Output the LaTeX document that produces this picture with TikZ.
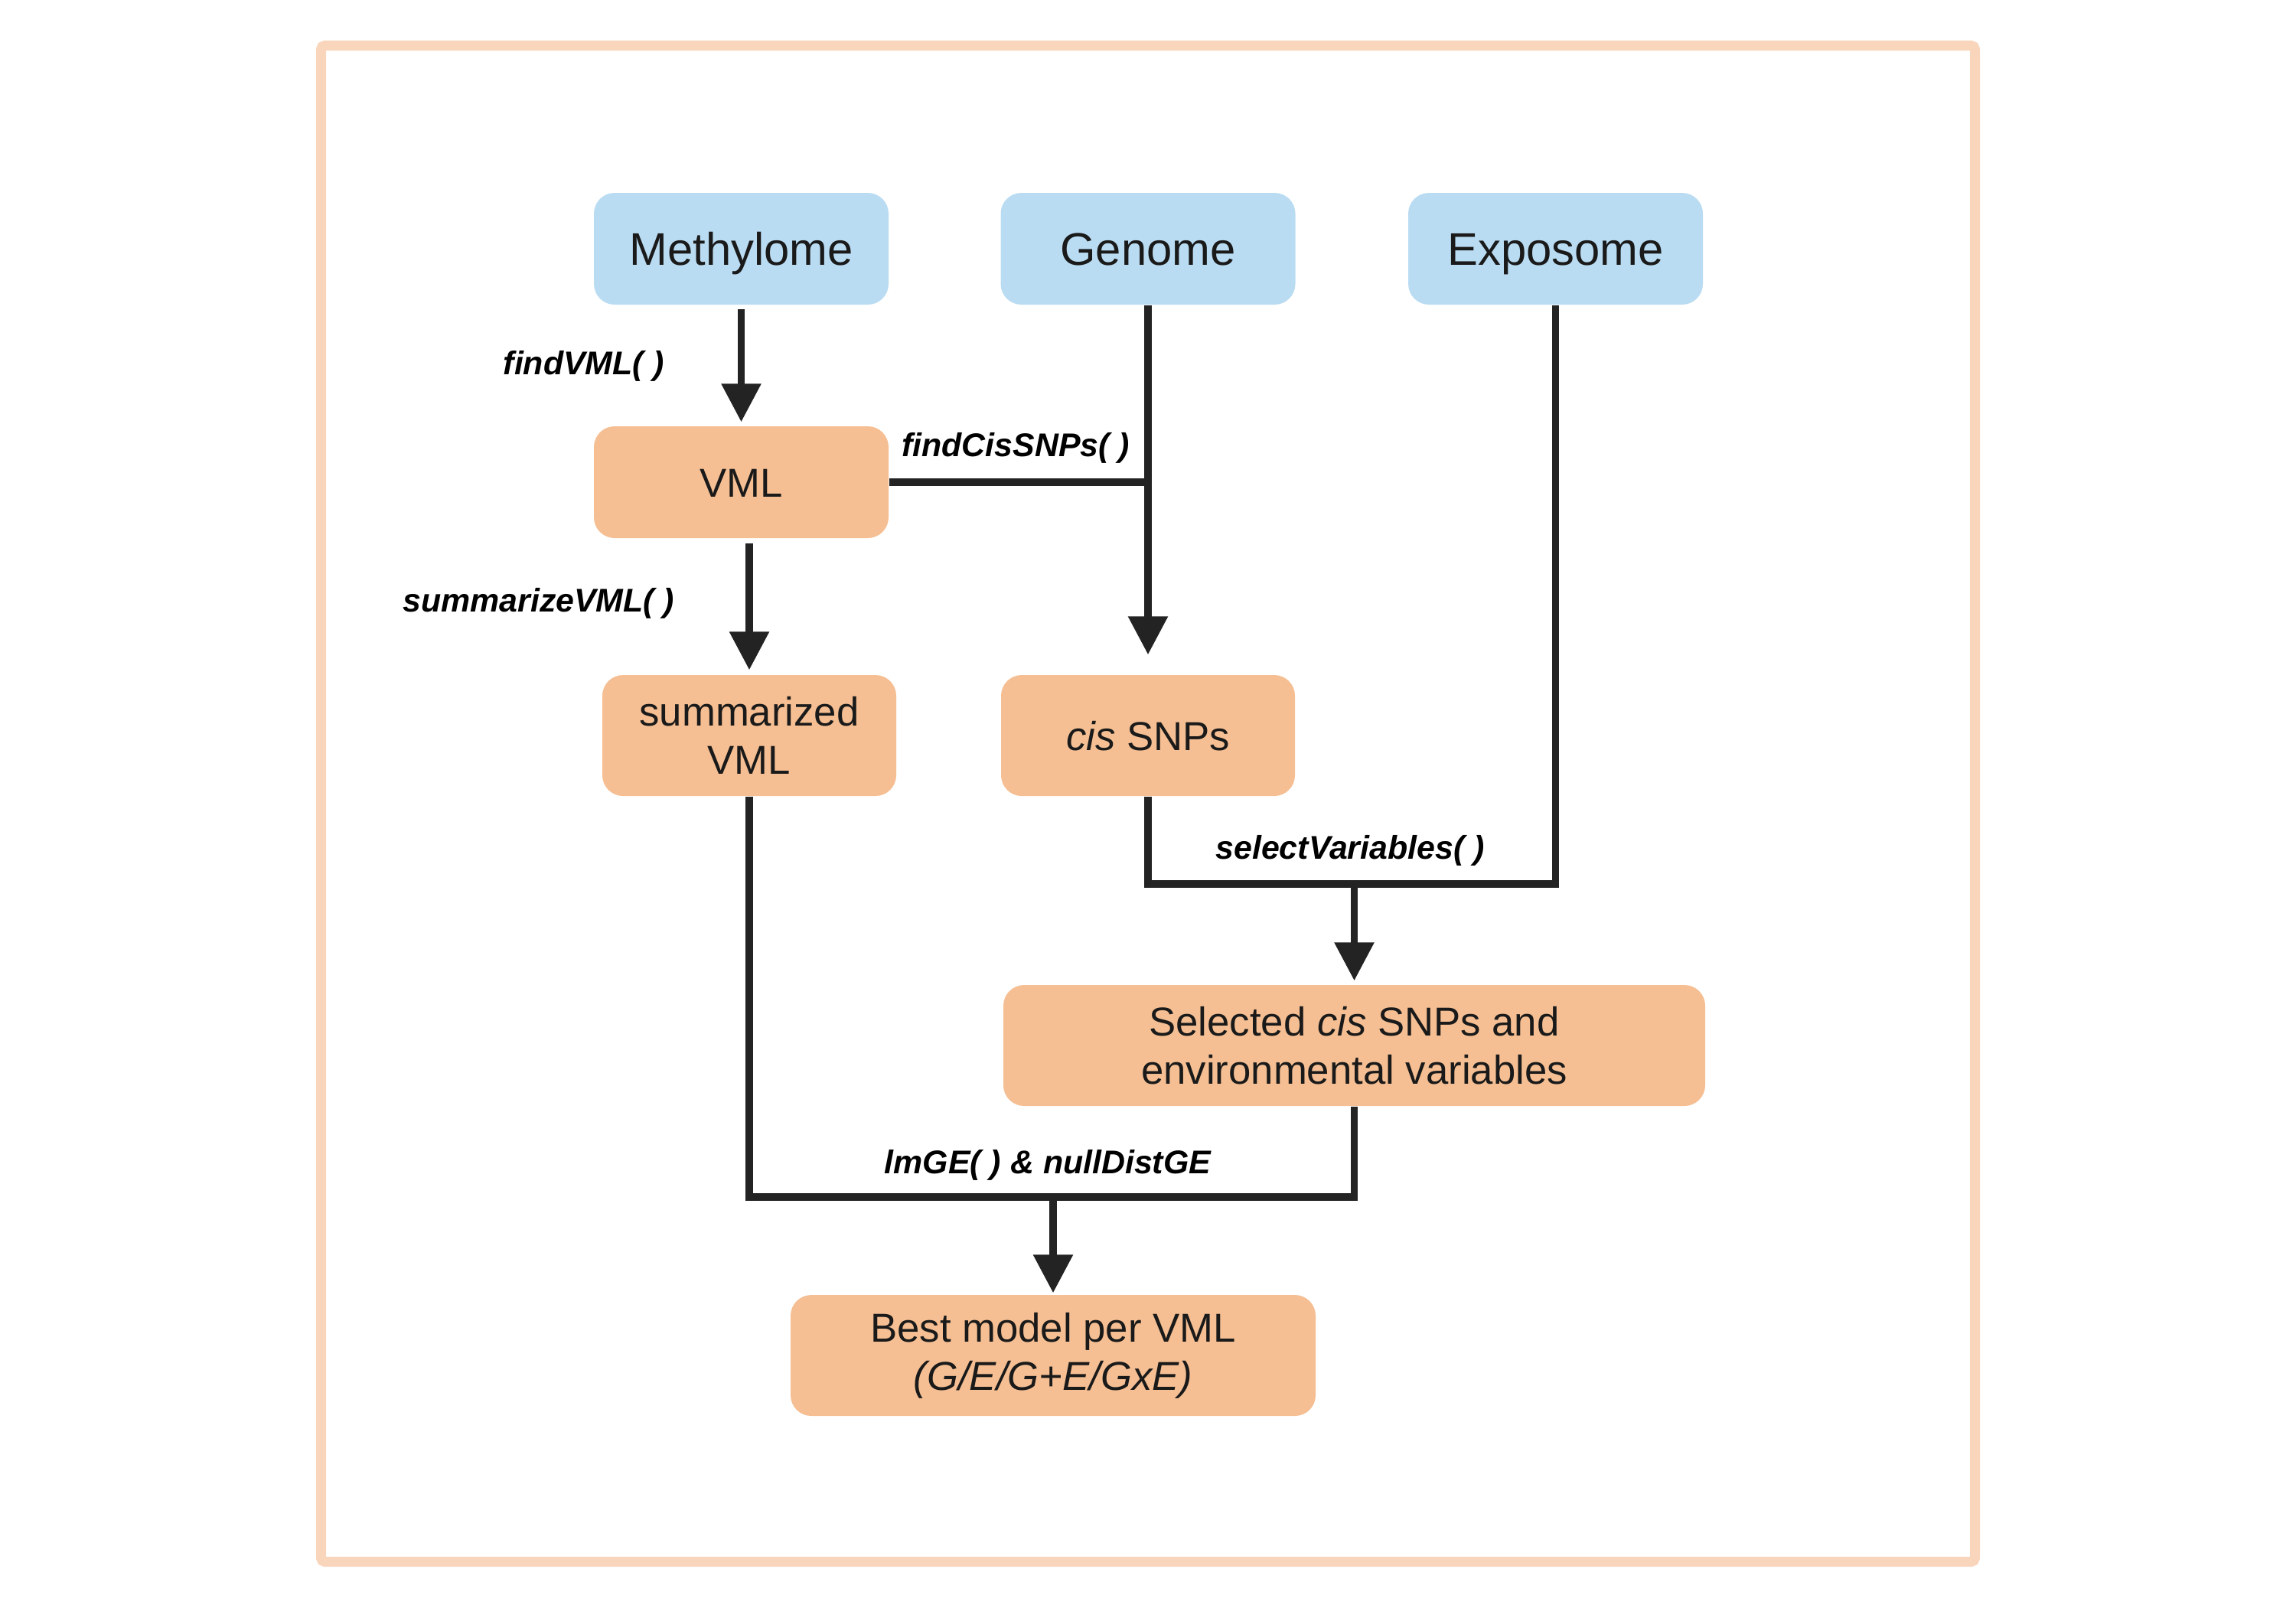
\documentclass[tikz,border=0pt]{standalone}
\usepackage{fontspec}
\setmainfont{Liberation Sans}
\usetikzlibrary{arrows.meta}
\definecolor{bluebox}{HTML}{BADCF2}
\definecolor{orangebox}{HTML}{F5BF93}
\definecolor{framec}{HTML}{F9D5BC}
\definecolor{linec}{HTML}{232323}
\definecolor{textc}{HTML}{1A1A1A}
\begin{document}
\begin{tikzpicture}[
 box/.style={rounded corners=0.27cm, inner sep=0pt, align=center, text=textc, font=\fontsize{15}{18}\selectfont},
 srcbox/.style={box, fill=bluebox, minimum width=3.85cm, minimum height=1.46cm, font=\fontsize{17}{20}\selectfont, text height=0.43cm, text depth=0cm},
 resbox/.style={box, fill=orangebox},
 oneline/.style={text height=0.38cm, text depth=0cm},
 conn/.style={draw=linec, line width=2.6pt},
 arr/.style={conn, -{Triangle[width=0.5cm,length=0.5cm]}},
 fn/.style={font=\bfseries\itshape\fontsize{12.2}{14}\selectfont, text=black, inner sep=0pt}
]
\useasboundingbox (0,0) rectangle (30,-21);
\draw[framec, line width=0.13cm, rounded corners=0.05cm] (4.195,-0.595) rectangle (25.805,-20.405);

\node[srcbox] (meth) at (9.685,-3.25) {Methylome};
\node[srcbox] (gen) at (15.00,-3.25) {Genome};
\node[srcbox] (expo) at (20.325,-3.25) {Exposome};
\node[resbox, oneline, minimum width=3.85cm, minimum height=1.46cm] (vml) at (9.685,-6.30) {VML};
\node[resbox, minimum width=3.84cm, minimum height=1.58cm] (sum) at (9.79,-9.61) {summarized\\VML};
\node[resbox, oneline, minimum width=3.84cm, minimum height=1.58cm] (cis) at (15.00,-9.61) {\textit{cis} SNPs};
\node[resbox, minimum width=9.17cm, minimum height=1.58cm] (sel) at (17.695,-13.66) {Selected \textit{cis} SNPs and\\environmental variables};
\node[resbox, minimum width=6.86cm, minimum height=1.58cm] (best) at (13.76,-17.71) {\raisebox{-0.04cm}{\parbox{6cm}{\centering Best model per VML\\\textit{(G/E/G+E/GxE)}}}};

\draw[arr] ([yshift=-0.05cm]meth.south) -- ([yshift=0.05cm]vml.north);
\coordinate (vmlbot) at ([yshift=-0.06cm]sum.north |- vml.south);
\draw[arr] (vmlbot) -- ([yshift=0.06cm]sum.north);
\coordinate (gj) at (gen.south |- vml.east);
\draw[conn] (vml.east) -- (gj);
\draw[arr] (gen.south) -- ([yshift=0.26cm]cis.north);
\coordinate (sj) at (15.00,-11.55);
\coordinate (ej) at (expo.south |- sj);
\draw[conn] (cis.south) -- (sj) -- (ej) -- (expo.south);
\draw[arr] (sel.north |- sj) -- ([yshift=0.05cm]sel.north);
\coordinate (lj) at (9.79,-15.64);
\coordinate (rj) at (sel.south |- lj);
\draw[conn] (sum.south) -- (lj) -- (rj) -- (sel.south);
\draw[arr] (best.north |- lj) -- ([yshift=0.02cm]best.north);

\node[fn, anchor=east] (l1) at (8.68,-4.78) {findVML( )};
\node[fn] (l2) at (13.27,-5.85) {findCisSNPs( )};
\node[fn, anchor=east] (l3) at (8.82,-7.88) {summarizeVML( )};
\node[fn] (l4) at (17.64,-11.11) {selectVariables( )};
\node[fn] (l5) at (13.69,-15.22) {lmGE( ) \& nullDistGE};
\end{tikzpicture}
\end{document}
